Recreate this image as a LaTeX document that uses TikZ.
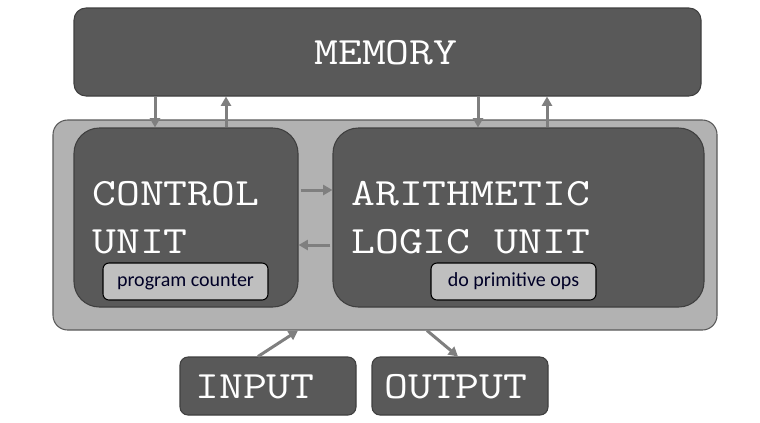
\documentclass[tikz,border=0pt]{standalone}
\usepackage{fontspec}
\usepackage{graphicx}
\newfontfamily\smallfont{Carlito}
\newcommand\bt[1]{\scalebox{1.2}[1]{#1}}
\usetikzlibrary{arrows.meta}
\definecolor{boxdark}{HTML}{595959}
\definecolor{boxedge}{HTML}{3F3F3F}
\definecolor{outerfill}{HTML}{B2B2B2}
\definecolor{outeredge}{HTML}{5A5A5A}
\definecolor{innerfill}{HTML}{BFBFBF}
\definecolor{arrowgray}{HTML}{7F7F7F}
\begin{document}
\begin{tikzpicture}[x=0.75pt,y=-0.75pt,
  darkbox/.style={draw=boxedge,fill=boxdark,line width=0.8pt,inner sep=0pt},
  tagbox/.style={draw=black,fill=innerfill,line width=0.8pt,rounded corners=4.5pt,
    minimum width=123.75pt,minimum height=27.75pt,inner sep=0pt,
    font=\smallfont\fontsize{15}{18}\selectfont,text=black!85!blue},
  bigtext/.style={text=white,font=\ttfamily\fontsize{29}{35}\selectfont,inner sep=0pt,anchor=base west},
  arr/.style={draw=arrowgray,line width=2.25pt,-{Triangle[length=7pt,width=7.5pt]}}]
\useasboundingbox (0,0) rectangle (760,422);
% memory
\node[darkbox,rounded corners=9pt,minimum width=470.25pt,minimum height=66pt] (mem) at (387.5,52) {};
\node[bigtext] (memt) at (314,64) {\bt{MEMORY}};
% outer cpu box
\node[draw=outeredge,fill=outerfill,line width=0.8pt,rounded corners=11pt,minimum width=498pt,minimum height=157.5pt,inner sep=0pt] (cpu) at (385,225) {};
% control unit
\node[darkbox,rounded corners=19pt,minimum width=168pt,minimum height=134.25pt] (cu) at (186,217.5) {};
\node[bigtext] (cut1) at (92,205) {\bt{CONTROL}};
\node[bigtext] (cut2) at (92,253) {\bt{UNIT}};
\node[tagbox] (pc) at (185.5,281.5) {program counter};
% ALU
\node[darkbox,rounded corners=19pt,minimum width=278.25pt,minimum height=134.25pt] (alu) at (518.5,217.5) {};
\node[bigtext] (alut1) at (351,205) {\bt{ARITHMETIC}};
\node[bigtext] (alut2) at (351,253) {\bt{LOGIC UNIT}};
\node[tagbox] (dpo) at (513.5,281.5) {do primitive ops};
% input / output
\node[darkbox,rounded corners=6pt,minimum width=132pt,minimum height=43.5pt] (in) at (268,386) {};
\node[bigtext] (int) at (195,398) {\bt{INPUT}};
\node[darkbox,rounded corners=6pt,minimum width=132pt,minimum height=43.5pt] (out) at (460,386) {};
\node[bigtext] (outt) at (384,398) {\bt{OUTPUT}};
% arrows memory <-> units
\draw[arr] (mem.south -| 155,0) -- (cu.north -| 155,0);
\draw[arr] (cu.north -| 226,0) -- (mem.south -| 226,0);
\draw[arr] (mem.south -| 478,0) -- (alu.north -| 478,0);
\draw[arr] (alu.north -| 547,0) -- (mem.south -| 547,0);
% CU <-> ALU
\draw[arr] (cu.east |- 0,190) ++(2,0) -- (alu.west |- 0,190);
\draw[arr] (alu.west |- 0,245) ++(-2,0) -- (cu.east |- 0,245);
% input / output
\draw[arr] (in.north -| 258,0) -- (cpu.south -| 298,0);
\draw[arr] (cpu.south -| 427,0) -- (out.north -| 458,0);
\end{tikzpicture}
\end{document}
